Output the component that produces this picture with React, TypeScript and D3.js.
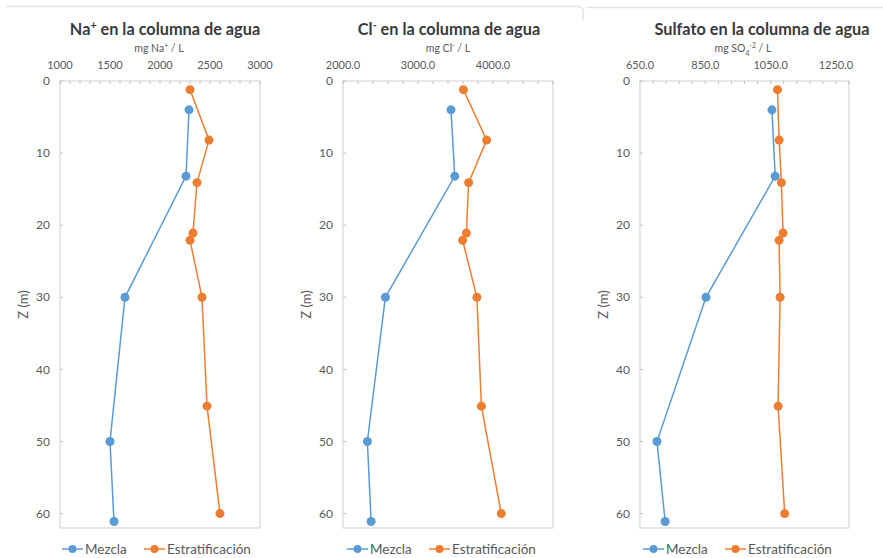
import React from "react";
import * as d3 from "d3";

// Sampling depths (m)
const depthMezcla = [4, 13.2, 30, 50, 61.1];
const depthEstrat = [1.2, 8.2, 14.1, 21.1, 22.1, 30, 45.1, 60];

// Sodium (mg Na+/L)
const naMezcla = [2290, 2260, 1650, 1500, 1540];
const naEstrat = [2300, 2490, 2370, 2330, 2300, 2420, 2470, 2600];

// Chloride (mg Cl-/L)
const clMezcla = [3440, 3490, 2565, 2325, 2375];
const clEstrat = [3605, 3915, 3675, 3645, 3595, 3785, 3845, 4110];

// Sulfate (mg SO4-2/L)
const so4Mezcla = [1054, 1064, 852, 702, 727];
const so4Estrat = [1071, 1076, 1083, 1088, 1076, 1079, 1073, 1093];

// Axis settings
const naTicks = [1000, 1500, 2000, 2500, 3000];
const clTicks = [2000, 3000, 4000];
const so4Ticks = [650, 850, 1050, 1250];
const depthTicks = [0, 10, 20, 30, 40, 50, 60];

const seriesNames = ["Mezcla", "Estratificación"];
const BLUE = "#5B9BD5";
const ORANGE = "#ED7D31";
const GRAY_TEXT = "#595959";
const FONT = "Lato, 'Open Sans', sans-serif";

const W = 883;
const H = 558;
const TOP = 81;
const BOTTOM = 528;

type Panel = {
  key: string;
  left: number;
  right: number;
  domain: [number, number];
  minor: number;
  ticks: number[];
  fmt: (v: number) => string;
  mezcla: number[];
  estrat: number[];
  titleX: number;
  unitX: number;
  legendX: number;
  title: React.ReactNode;
  unit: React.ReactNode;
};

const sup = (s: string) => (
  <tspan baselineShift="super" fontSize="65%">
    {s}
  </tspan>
);
const sub = (s: string) => (
  <tspan baselineShift="sub" fontSize="65%">
    {s}
  </tspan>
);

const panels: Panel[] = [
  {
    key: "na",
    left: 60,
    right: 260,
    domain: [1000, 3000],
    minor: 100,
    ticks: naTicks,
    fmt: d3.format("d"),
    mezcla: naMezcla,
    estrat: naEstrat,
    titleX: 165,
    unitX: 159,
    legendX: 62,
    title: (
      <>
        Na{sup("+")} en la columna de agua
      </>
    ),
    unit: (
      <>
        mg Na{sup("+")} / L
      </>
    ),
  },
  {
    key: "cl",
    left: 343,
    right: 553,
    domain: [2000, 4800],
    minor: 200,
    ticks: clTicks,
    fmt: d3.format(".1f"),
    mezcla: clMezcla,
    estrat: clEstrat,
    titleX: 449,
    unitX: 448,
    legendX: 347,
    title: (
      <>
        Cl{sup("-")} en la columna de agua
      </>
    ),
    unit: (
      <>
        mg Cl{sup("-")} / L
      </>
    ),
  },
  {
    key: "so4",
    left: 640,
    right: 849,
    domain: [650, 1290],
    minor: 40,
    ticks: so4Ticks,
    fmt: d3.format(".1f"),
    mezcla: so4Mezcla,
    estrat: so4Estrat,
    titleX: 762,
    unitX: 743,
    legendX: 643,
    title: <>Sulfato en la columna de agua</>,
    unit: (
      <>
        mg SO{sub("4")}
        <tspan baselineShift="super" fontSize="65%">
          -2
        </tspan>{" "}
        / L
      </>
    ),
  },
];

const y = d3.scaleLinear().domain([0, 62]).range([TOP, BOTTOM]);

function ProfilePanel({ p }: { p: Panel }) {
  const x = d3.scaleLinear().domain(p.domain).range([p.left, p.right]);
  const minorTicks = d3.range(p.domain[0], p.domain[1] + 1e-6, p.minor);
  const line = d3
    .line<[number, number]>()
    .x((d) => x(d[0]))
    .y((d) => y(d[1]));
  const mez: [number, number][] = p.mezcla.map((v, i) => [v, depthMezcla[i]]);
  const est: [number, number][] = p.estrat.map((v, i) => [v, depthEstrat[i]]);

  const legendY = 549;
  const lx = p.legendX;

  return (
    <g>
      <text
        x={p.titleX}
        y={35}
        textAnchor="middle"
        fontFamily={FONT}
        fontWeight={700}
        fontSize={16.3}
        fill="#3a3a3a"
      >
        {p.title}
      </text>
      <text x={p.unitX} y={52} textAnchor="middle" fontFamily={FONT} fontSize={10.5} fill={GRAY_TEXT}>
        {p.unit}
      </text>

      {/* plot frame */}
      <rect
        x={p.left}
        y={TOP}
        width={p.right - p.left}
        height={BOTTOM - TOP}
        fill="#fff"
        stroke="#cfcfcf"
        strokeWidth={1}
      />

      {/* top value axis */}
      {minorTicks.map((t) => (
        <line key={"m" + t} x1={x(t)} x2={x(t)} y1={TOP} y2={TOP + 3} stroke="#bfbfbf" />
      ))}
      {p.ticks.map((t) => (
        <text
          key={"t" + t}
          x={x(t)}
          y={69}
          textAnchor="middle"
          fontFamily={FONT}
          fontSize={11}
          fill={GRAY_TEXT}
        >
          {p.fmt(t)}
        </text>
      ))}

      {/* depth axis */}
      {depthTicks.map((t) => (
        <g key={"d" + t}>
          <line x1={p.left} x2={p.left + 3} y1={y(t)} y2={y(t)} stroke="#bfbfbf" />
          <text
            x={p.left - 10}
            y={y(t)}
            dy="0.35em"
            textAnchor="end"
            fontFamily={FONT}
            fontSize={12}
            fill={GRAY_TEXT}
          >
            {t}
          </text>
        </g>
      ))}
      <text
        transform={`translate(${p.left - 37},${(TOP + BOTTOM) / 2}) rotate(-90)`}
        textAnchor="middle"
        dy="0.35em"
        fontFamily={FONT}
        fontSize={13}
        fill={GRAY_TEXT}
      >
        Z (m)
      </text>

      {/* profiles */}
      <path d={line(mez) || ""} fill="none" stroke={BLUE} strokeWidth={1.5} />
      <path d={line(est) || ""} fill="none" stroke={ORANGE} strokeWidth={1.5} />
      {mez.map((d, i) => (
        <circle key={"cm" + i} cx={x(d[0])} cy={y(d[1])} r={4.5} fill={BLUE} />
      ))}
      {est.map((d, i) => (
        <circle key={"ce" + i} cx={x(d[0])} cy={y(d[1])} r={4.5} fill={ORANGE} />
      ))}

      {/* legend */}
      <g fontFamily={FONT} fontSize={13.5} fill={GRAY_TEXT}>
        <line x1={lx} x2={lx + 21} y1={legendY} y2={legendY} stroke={BLUE} strokeWidth={1.5} />
        <circle cx={lx + 10.5} cy={legendY} r={4} fill={BLUE} />
        <text x={lx + 23} y={legendY} dy="0.35em">
          {seriesNames[0]}
        </text>
        <line x1={lx + 82} x2={lx + 103} y1={legendY} y2={legendY} stroke={ORANGE} strokeWidth={1.5} />
        <circle cx={lx + 92.5} cy={legendY} r={4} fill={ORANGE} />
        <text x={lx + 105} y={legendY} dy="0.35em">
          {seriesNames[1]}
        </text>
      </g>
    </g>
  );
}

export default function App() {
  return (
    <svg
      width={W}
      height={H}
      viewBox={`0 0 ${W} ${H}`}
      style={{ position: "absolute", left: 0, top: 0, display: "block", background: "#fff" }}
    >
      <rect width={W} height={H} fill="#fff" />
      {/* chart-area borders */}
      <path d="M6,6.5 H578 Q583,6.5 583,11.5 V20" fill="none" stroke="#e3e3e3" strokeWidth={1.5} />
      <line x1={587} x2={W} y1={7.5} y2={7.5} stroke="#e3e3e3" strokeWidth={1.5} />
      {panels.map((p) => (
        <ProfilePanel key={p.key} p={p} />
      ))}
    </svg>
  );
}
